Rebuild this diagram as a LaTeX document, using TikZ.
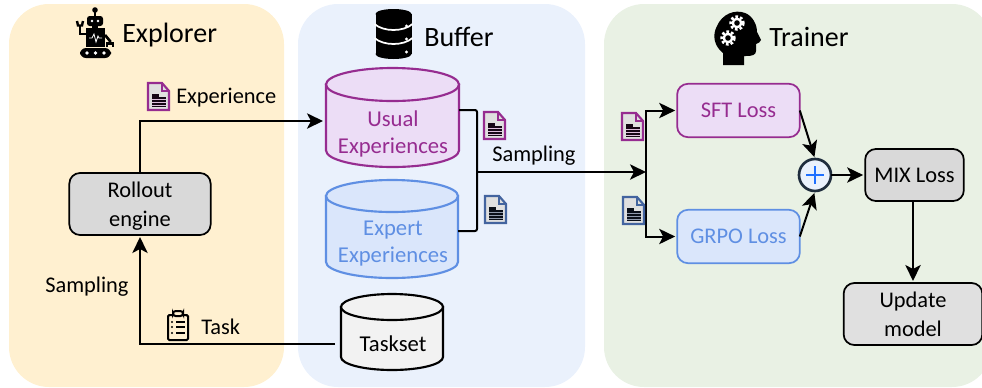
\documentclass[tikz,border=0pt]{standalone}
\usepackage{fontspec}
\setmainfont{Carlito}
\usetikzlibrary{positioning, arrows.meta}

\definecolor{explorerbg}{HTML}{FFF0D0}
\definecolor{bufferbg}{HTML}{EAF1FC}
\definecolor{trainerbg}{HTML}{E9F1E4}
\definecolor{usualline}{HTML}{962C90}
\definecolor{usualfill}{HTML}{ECDDF6}
\definecolor{expertline}{HTML}{5F8FE3}
\definecolor{expertfill}{HTML}{DAE6FB}
\definecolor{plusline}{HTML}{1F2D3D}
\definecolor{plusblue}{HTML}{1E6FFF}

% Cylinder round a named node: node, x radius, y radius, line colour, fill colour
\newcommand{\dbdraw}[5]{
  \draw[line width=1.6pt, draw=#4, fill=#5]
    ([shift={(0,#3)}]#1.north west) -- ([shift={(0,-#3)}]#1.south west)
    arc[start angle=180, end angle=0, x radius=#2, y radius=#3]
    -- ([shift={(0,#3)}]#1.north east) -- cycle;
  \draw[line width=1.6pt, draw=#4, fill=#5] ([shift={(0,#3)}]#1.north) ellipse (#2 and #3);
}

\tikzset{
  panel/.style={rounded corners=30pt, draw=none},
  title/.style={font=\fontsize{21}{24}\selectfont, inner sep=0pt},
  lbl/.style={font=\fontsize{16.8}{20}\selectfont, inner sep=0pt},
  box/.style={draw, rounded corners=8pt, line width=1.3pt, align=center, inner sep=0pt, outer sep=0pt, font=\fontsize{16.8}{21.7}\selectfont},
  db/.style={inner sep=0pt, outer sep=0pt},
  dbtext/.style={align=center, inner sep=0pt, font=\fontsize{17}{20.5}\selectfont},
  arr/.style={line width=1.5pt, shorten >=1.5pt, -{Stealth[length=12pt, width=11.5pt, inset=3pt]}},
  wire/.style={line width=1.5pt, rounded corners=1.5pt},
  % document icon, origin at its top left corner
  docicon/.pic={
    \fill[white!88!black] (0,0) -- (14,0) -- (21,8) -- (21,27) -- (0,27) -- cycle;
    \draw[#1, line width=1.6pt, line join=miter] (0,0) -- (14,0) -- (21,8) -- (21,27) -- (0,27) -- cycle;
    \draw[#1, line width=1pt] (14,0) -- (14,8) -- (21,8);
    \fill[black!85!#1] (4,11) rectangle (11,14);
    \fill[black!85!#1] (4,14) rectangle (18,24);
    \foreach \ly in {16.5,19.5,22} \draw[white!70!#1, line width=0.4pt] (4,\ly) -- (18,\ly);
  },
  roboticon/.pic={
    \fill (0,-23) circle (2.8);
    \draw[line width=1.2pt] (0,-23) -- (0,-17);
    \fill[rounded corners=2pt] (-8,-17) rectangle (8,-7);
    \fill[white] (-3,-12) circle (1.3) (3,-12) circle (1.3);
    \fill (-3,-7) rectangle (3,-4);
    \fill (-9,-5) rectangle (10,14);
    \draw[white, line width=0.6pt] (-6,5) -- (-3,5) -- (-1,1) -- (1,9) -- (3,3) -- (4,5) -- (7,5);
    \draw[line width=2pt] (-9,1) -- (-15,1) -- (-15,-8);
    \draw[line width=1.8pt] (-18,-12) -- (-17,-7.5) -- (-13,-7.5) -- (-12,-12);
    \draw[line width=2pt] (10,2) -- (15,8) -- (15,11);
    \draw[line width=1.8pt] (12,14) -- (12,10.5) -- (18,10.5) -- (18,14);
    \fill[rounded corners=4.5pt] (-15,15) rectangle (16,25);
    \fill[white] (-8,20) circle (1.9) (0.5,20) circle (1.9) (9,20) circle (1.9);
  },
  dbicon/.pic={
    \fill (0,-20) ellipse (18 and 5);
    \fill (0,20) ellipse (18 and 5);
    \fill (-18,-20) rectangle (18,20);
    \foreach \ly in {-10,4}
      \draw[white, line width=1.3pt] (-19,\ly) .. controls (-10,\ly+8) and (10,\ly+8) .. (19,\ly);
    \foreach \ly in {-8,5,18} \fill[white] (13,\ly) circle (1.6);
  },
  headicon/.pic={
    \fill (-15,27) -- (-15,15) .. controls (-24,8) and (-26,-3) .. (-21,-12)
      .. controls (-16,-24) and (-3,-29) .. (7,-25)
      .. controls (15,-22) and (19,-13) .. (19,-6)
      -- (23,2) .. controls (23,4) and (20,5) .. (18,6)
      -- (18,13) .. controls (18,17) and (14,18) .. (8,18) -- (6,18) -- (6,27) -- cycle;
    \foreach \gx/\gy in {-1/-15,-10/0} {
      \fill[white] (\gx,\gy) circle (5.5);
      \draw[white, line width=1.8pt, dash pattern=on 2pt off 1.6pt] (\gx,\gy) circle (6.5);
      \fill (\gx,\gy) circle (2.8);
    }
  },
  taskicon/.pic={
    \draw[line width=1.5pt, rounded corners=1pt] (-10,-10) rectangle (10,15);
    \draw[line width=1.5pt, fill=explorerbg, rounded corners=2pt] (-5,-9) -- (-5,-14) -- (5,-14) -- (5,-9) -- cycle;
    \foreach \ly in {-3,2,8} {
      \fill (-6,\ly) circle (1.1);
      \draw[line width=1.5pt] (-2,\ly) -- (7,\ly);
    }
  }
}

\begin{document}
\begin{tikzpicture}[x=0.75pt, y=-0.75pt]
    \useasboundingbox (0,0) rectangle (982,387);

    % Background panels
    \fill[panel, explorerbg] (9,4) rectangle (284,387);
    \fill[panel, bufferbg] (298,4) rectangle (585,387);
    \fill[panel, trainerbg] (604,4) rectangle (992,387);

    % Panel titles with their icons
    \pic at (95,33) {roboticon};
    \node (explorer) [title, anchor=west] at (122,35) {Explorer};
    \pic at (393.5,34) {dbicon};
    \node (buffer) [title, anchor=west] at (424,37) {Buffer};
    \pic at (738,38) {headicon};
    \node (trainer) [title, anchor=west] at (769,37) {Trainer};

    % Define nodes
    \node (rollout) [box, fill=black!15, minimum width=106pt, minimum height=46.5pt] at (140,204) {\rule{0pt}{14.5pt}Rollout\\engine};
    \node (usual) [db, minimum width=99.75pt, minimum height=74.25pt] at (392.5,117.5) {};
    \dbdraw{usual}{66.5}{16.5}{usualline}{usualfill}
    \node (usuallbl) [dbtext, text=usualline] at (393,134) {Usual\\Experiences};
    \node (expert) [db, minimum width=99pt, minimum height=73.5pt] at (392,229) {};
    \dbdraw{expert}{66}{16}{expertline}{expertfill}
    \node (expertlbl) [dbtext, text=expertline] at (393,243.5) {Expert\\Experiences};
    \node (taskset) [db, minimum width=76.5pt, minimum height=57pt] at (392,332) {};
    \dbdraw{taskset}{51}{13}{black}{black!5}
    \node (tasksetlbl) [dbtext] at (393,344) {Taskset};
    \node (sft) [box, draw=usualline, fill=usualfill, text=usualline, minimum width=92pt, minimum height=40pt] at (738.5,110.5) {SFT Loss};
    \node (grpo) [box, draw=expertline, fill=expertfill, text=expertline, minimum width=92pt, minimum height=40pt] at (738.5,236.5) {GRPO Loss};
    \node (plus) [circle, draw=plusline, fill=bufferbg, line width=2pt, minimum size=24pt, inner sep=0pt, outer sep=0pt] at (815,175) {};
    \node (mix) [box, fill=black!15, minimum width=74pt, minimum height=39pt] at (914.5,175) {MIX Loss};
    \node (update) [box, fill=black!12, minimum width=104pt, minimum height=46.5pt] at (913,314) {Update\\model};
    \draw[plusblue, line width=2pt] ([xshift=-6.5pt]plus.center) -- ([xshift=6.5pt]plus.center);
    \draw[plusblue, line width=2pt] ([yshift=-6.5pt]plus.center) -- ([yshift=6.5pt]plus.center);

    % Connector end points
    \coordinate (usualout) at (459,110);
    \coordinate (expertout) at (458,231);
    \coordinate (usualin) at (325,121);
    \coordinate (joinL) at (477,172);
    \coordinate (joinR) at (646,172);
    \coordinate (tasksetout) at (335,344);

    % Draw arrows
    \draw[arr] (rollout.north) |- (usualin);
    \draw[arr] (tasksetout) -| (rollout.south);
    \draw[wire] (usualout) -| (joinL);
    \draw[wire] (expertout) -| (joinL);
    \draw[arr, shorten >=0pt] (joinL) -- (joinR);
    \draw[arr] (joinR) |- (sft.west);
    \draw[arr] (joinR) |- (grpo.west);
    \draw[arr] (sft.east) -- (plus.north);
    \draw[arr] (grpo.east) -- (plus.south);
    \draw[arr] (plus.east) -- (mix.west);
    \draw[arr] (update.north |- mix.south) -- (update.north);

    % Connector labels
    \pic at (148,83) {docicon=usualline};
    \node (experience) [lbl, anchor=west] at (176,98) {Experience};
    \node (sampleup) [lbl, anchor=west] at (45,287) {Sampling};
    \pic at (178,325) {taskicon};
    \node (task) [lbl, anchor=west] at (201,327) {Task};
    \node (samplebuf) [lbl, anchor=west] at (492,156) {Sampling};
    \pic at (484,112) {docicon=usualline};
    \pic at (485,196) {docicon=expertline!70!black};
    \pic at (622,113) {docicon=usualline};
    \pic at (623,197) {docicon=expertline!70!black};
\end{tikzpicture}
\end{document}
